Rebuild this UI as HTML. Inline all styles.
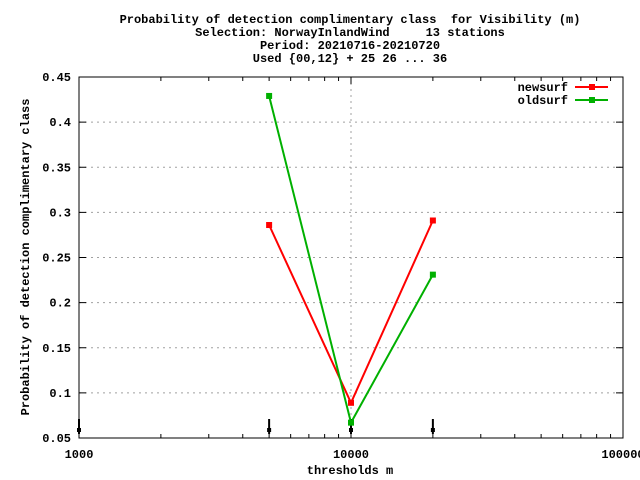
<!DOCTYPE html>
<html><head><meta charset="utf-8"><style>
body{margin:0;background:#fff}
svg{display:block;font-family:"Liberation Mono","DejaVu Sans Mono",monospace;font-size:12px;font-weight:bold}
text{white-space:pre}
</style></head><body>
<svg id="c" width="640" height="480" viewBox="0 0 640 480">
<g text-anchor="middle">
<text x="350" y="23" xml:space="preserve">Probability of detection complimentary class  for Visibility (m)</text>
<text x="350" y="36" xml:space="preserve">Selection: NorwayInlandWind     13 stations</text>
<text x="350" y="49">Period: 20210716-20210720</text>
<text x="350" y="62">Used {00,12} + 25 26 ... 36</text>
</g>
<g id="grid"></g>
<g id="axes"></g>
<g id="series"></g>
<text x="350" y="474" text-anchor="middle">thresholds m</text>
<text transform="translate(29,257) rotate(-90)" text-anchor="middle">Probability of detection complimentary class</text>
<g>
<text x="568" y="91" text-anchor="end">newsurf</text>
<line x1="575" y1="87" x2="608" y2="87" stroke="#ff0000" stroke-width="2"/>
<rect x="589" y="84" width="6" height="6" fill="#ff0000"/>
<text x="568" y="104" text-anchor="end">oldsurf</text>
<line x1="575" y1="100" x2="608" y2="100" stroke="#00b000" stroke-width="2"/>
<rect x="589" y="97" width="6" height="6" fill="#00b000"/>
</g>
</svg>
<script>
const thresholds=[5000,10000,20000];
const newsurf=[0.286,0.089,0.291];
const oldsurf=[0.429,0.067,0.231];
const yTicks=[0.05,0.1,0.15,0.2,0.25,0.3,0.35,0.4,0.45];
const yTickLabels=["0.05","0.1","0.15","0.2","0.25","0.3","0.35","0.4","0.45"];
const xTicks=[1000,10000,100000];
const xTickLabels=["1000","10000","100000"];
const arrowX=[1000,5000,10000,20000];
const L=79,R=623,T=77,B=438;
const xs=v=>L+(Math.log10(v)-3)/2*(R-L);
const ys=v=>B-(v-0.05)/0.4*(B-T);
const NS='http://www.w3.org/2000/svg';
function mk(t,a,p){const e=document.createElementNS(NS,t);for(const k in a)e.setAttribute(k,a[k]);p.appendChild(e);return e;}
const grid=document.getElementById('grid'),axes=document.getElementById('axes'),ser=document.getElementById('series');
yTicks.forEach((v,i)=>{const y=ys(v);
 if(i>0&&i<yTicks.length-1){const g=mk('line',{x1:L,x2:R,y1:y,y2:y,stroke:'#a0a0a0','stroke-dasharray':'2,4'},grid);
 }
 mk('line',{x1:L,x2:L+7,y1:y,y2:y,stroke:'#000'},axes);mk('line',{x1:R,x2:R-7,y1:y,y2:y,stroke:'#000'},axes);
 const t=mk('text',{x:L-8,y:y+4,'text-anchor':'end'},axes);t.textContent=yTickLabels[i];
 });
const g10=mk('line',{x1:xs(10000),x2:xs(10000),y1:T,y2:B,stroke:'#a0a0a0','stroke-dasharray':'2,4'},grid);

for(let d=1000;d<100000;d*=10)for(let m=2;m<10;m++){const x=xs(d*m);
 mk('line',{x1:x,x2:x,y1:B,y2:B-4,stroke:'#000'},axes);mk('line',{x1:x,x2:x,y1:T,y2:T+4,stroke:'#000'},axes);}
xTicks.forEach((v,i)=>{const x=xs(v);mk('line',{x1:x,x2:x,y1:B,y2:B-7,stroke:'#000'},axes);mk('line',{x1:x,x2:x,y1:T,y2:T+7,stroke:'#000'},axes);
 const t=mk('text',{x:x,y:B+20,'text-anchor':'middle'},axes);t.textContent=xTickLabels[i];
 });
const fr=mk('rect',{x:L,y:T,width:R-L,height:B-T,fill:'none',stroke:'#000'},axes);

arrowX.forEach(v=>{const x=xs(v);const a=mk('line',{x1:x,x2:x,y1:419,y2:434,stroke:'#000','stroke-width':2},axes);
 
 mk('rect',{x:x-2,y:428,width:4,height:4,fill:'#000'},axes);});
[[newsurf,'#ff0000','newsurf'],[oldsurf,'#00b000','oldsurf']].forEach(([vals,c,n])=>{
 const p=mk('polyline',{points:thresholds.map((t,i)=>xs(t)+','+ys(vals[i])).join(' '),fill:'none',stroke:c,'stroke-width':2},ser);
 
 thresholds.forEach((t,i)=>{const r=mk('rect',{x:xs(t)-3,y:ys(vals[i])-3,width:6,height:6,fill:c},ser);
 });});
</script>
</body></html>
